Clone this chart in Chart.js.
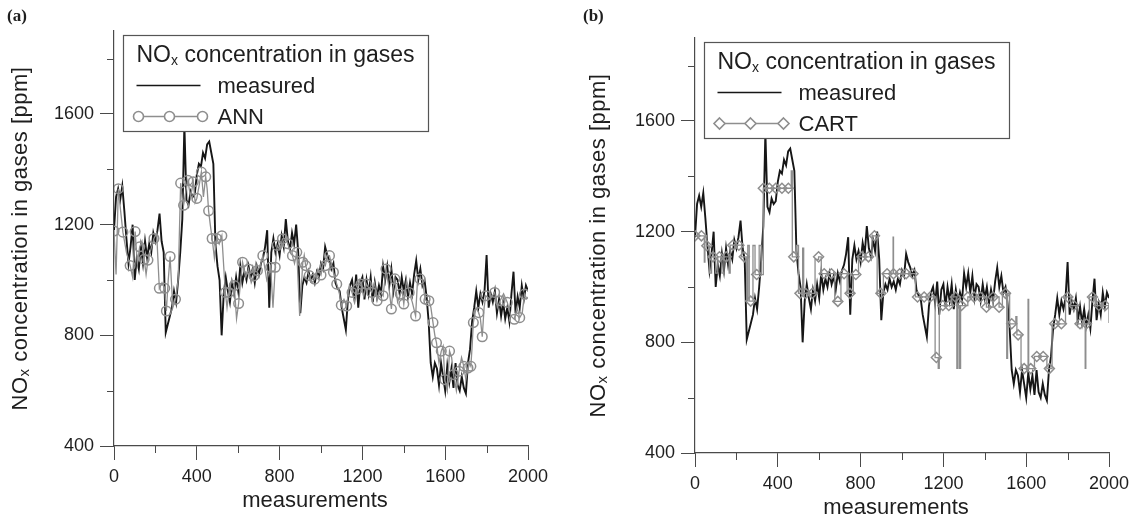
<!DOCTYPE html>
<html><head><meta charset="utf-8">
<script src="https://cdn.jsdelivr.net/npm/chart.js@4.4.1/dist/chart.umd.min.js"></script>
<style>
html,body{margin:0;padding:0;background:#fff;width:1133px;height:523px;overflow:hidden}
.p{position:absolute;top:0;height:523px}
#pa{left:0;width:566px}
#pb{left:566px;width:567px}
</style></head><body>
<div class="p" id="pa"><canvas id="ca"></canvas></div>
<div class="p" id="pb"><canvas id="cb"></canvas></div>
<script>
// ---------- data ----------
const xTicks = [0, 400, 800, 1200, 1600, 2000];
const xMinorTicks = [200, 600, 1000, 1400, 1800];
const yTicks = [400, 800, 1200, 1600];
const yMinorTicks = [600, 1000, 1400, 1800];

const measX = [0,10,20,30,40,50,60,70,80,90,100,110,120,130,140,150,160,170,180,190,
200,210,220,230,240,250,260,270,280,290,300,310,320,330,340,350,360,370,380,390,
400,410,420,430,440,450,460,470,480,490,500,510,520,530,540,550,560,570,580,590,
600,610,620,630,640,650,660,670,680,690,700,710,720,730,740,750,760,770,780,790,
800,810,820,830,840,850,860,870,880,890,900,910,920,930,940,950,960,970,980,990,
1000,1010,1020,1030,1040,1050,1060,1070,1080,1090,1100,1110,1120,1130,1140,1150,1160,1170,1180,1190,
1200,1210,1220,1230,1240,1250,1260,1270,1280,1290,1300,1310,1320,1330,1340,1350,1360,1370,1380,1390,
1400,1410,1420,1430,1440,1450,1460,1470,1480,1490,1500,1510,1520,1530,1540,1550,1560,1570,1580,1590,
1600,1610,1620,1630,1640,1650,1660,1670,1680,1690,1700,1710,1720,1730,1740,1750,1760,1770,1780,1790,
1800,1810,1820,1830,1840,1850,1860,1870,1880,1890,1900,1910,1920,1930,1940,1950,1960,1970,1980,1990,2000];
const measY = [1180,1300,1330,1290,1340,1250,1150,1060,1120,1200,
1000,1080,1040,1120,1060,1140,1080,1130,1100,1170,
1140,1180,1240,1140,1100,810,840,870,900,960,
920,1000,1100,1220,1560,1290,1270,1320,1300,1310,
1380,1420,1410,1460,1440,1490,1500,1460,1420,1130,
1050,1000,800,950,1010,960,920,990,950,1010,
960,1050,990,1030,1000,1050,1010,1040,990,1050,
1020,1060,1080,1120,1180,900,1100,1150,1100,1130,
1090,1160,1120,1220,1140,1110,1170,1130,1200,1100,
880,980,1010,990,1030,1000,1020,990,1030,1010,
1060,1040,1120,1090,1070,1040,1060,990,970,960,
900,860,820,930,980,1000,940,1020,900,990,
1010,930,1000,950,1010,920,990,940,980,950,
1050,1000,1050,980,1040,960,1010,1000,950,1010,
960,1000,940,990,950,1020,1070,1000,1040,980,
1000,940,850,700,650,700,680,620,700,650,
600,690,630,680,610,700,620,600,650,610,
590,700,750,850,900,960,900,950,920,960,
1090,900,950,920,960,880,930,870,920,860,
900,850,950,1030,880,940,900,980,930,980,960];

// ANN markers (circles) and the in-between points of the ANN line
const annX = [0,21,43,78,102,124,146,164,193,219,245,253,271,297,322,336,357,383,400,422,443,457,474,495,521,538,555,581,602,621,650,676,693,719,757,779,788,814,840,862,883,912,926,943,969,1000,1021,1041,1060,1076,1098,1124,1150,1176,1193,1219,1245,1271,1300,1314,1340,1357,1383,1400,1426,1457,1478,1503,1521,1541,1558,1581,1598,1621,1641,1667,1690,1710,1724,1736,1762,1779,1796,1839,1865,1900,1934,1960,1983];
const annY = [1177,1330,1173,1052,1175,1120,1075,1072,1150,970,970,888,1085,930,1350,1270,1360,1355,1295,1390,1373,1250,1150,1150,1160,955,955,980,915,1064,1040,1015,1034,1088,1046,1046,1125,1149,1131,1088,1100,1064,1052,1016,1003,1018,1052,1088,1028,985,909,906,955,967,985,985,955,925,943,1040,895,1004,949,913,955,870,1004,931,925,846,773,743,640,743,658,670,688,682,688,846,882,795,943,955,925,919,858,864,949];
const annMidX = [10,32,60,90,113,135,155,178,206,232,249,262,284,310,329,347,370,392,411,432,450,465,485,508,530,546,568,592,612,636,663,685,706,738,768,783,801,827,851,872,897,919,935,956,985,1010,1031,1050,1068,1087,1111,1137,1163,1185,1206,1232,1258,1285,1307,1327,1348,1370,1392,1413,1441,1467,1490,1512,1531,1550,1570,1590,1610,1631,1654,1679,1700,1717,1730,1749,1770,1788,1817,1852,1882,1917,1947,1972,1995];
const annMidY = [1020,1250,1100,1010,1060,1140,1020,1110,1170,990,920,1000,900,1000,1300,1320,1300,1280,1340,1300,1330,1200,1080,1130,1050,900,1000,860,1000,1010,990,1060,1050,1000,900,1080,1110,1150,1100,1060,870,1090,1030,990,1040,1060,1090,1060,1010,960,930,980,920,1000,940,970,990,960,990,980,970,920,960,1000,920,1010,1000,920,900,800,700,760,600,720,600,720,640,700,760,900,860,900,930,900,950,870,900,880,930];

// CART markers (diamonds) and the extra step points of the CART line
const cartX = [0,31,57,87,118,151,182,212,238,269,298,330,359,390,420,451,477,507,534,567,597,624,659,690,720,749,777,807,838,867,898,928,959,989,1020,1053,1075,1107,1136,1166,1197,1226,1258,1287,1318,1348,1379,1408,1440,1469,1500,1530,1561,1590,1622,1651,1682,1712,1738,1770,1801,1830,1860,1891,1920,1951,1982];
const cartY = [1185,1185,1149,1109,1109,1109,1151,1151,1109,949,1045,1357,1357,1357,1357,1357,1109,977,977,977,1109,1048,1048,948,1048,977,1045,1109,1109,1185,977,1048,1048,1048,1048,1048,964,964,964,745,933,933,964,933,964,964,964,927,964,927,977,867,827,705,705,749,749,705,867,867,964,933,867,867,964,933,933];
const cartStepX = [45,48,70,80,100,110,130,140,165,170,225,250,255,262,280,290,310,320,465,470,490,500,520,525,580,610,675,705,735,765,790,855,880,910,945,957,960,1065,1150,1160,1175,1180,1240,1265,1270,1278,1283,1485,1506,1510,1520,1550,1555,1575,1609,1612,1640,1700,1725,1790,1815,1845,1885,1888,1905,1935,2000];
const cartStepY = [1090,1185,1050,1109,1050,1109,1050,1109,1050,1151,1109,950,1150,949,1150,1045,1150,1045,1420,1109,1150,977,1140,977,1100,1048,948,1048,977,1045,1109,1185,977,1048,1048,1180,1048,964,964,745,706,933,964,706,933,706,933,977,742,977,867,893,827,705,955,705,749,705,867,964,933,867,706,867,964,933,870];

// ---------- styling ----------
const AXIS = '#4a4a4a', TXT = '#1e1e1e', BLACK = '#161616', GRAY = '#8e8e8e';
const FONT = '"Liberation Sans", Arial, Helvetica, sans-serif';

function pairs(xs, ys) { return xs.map((x, i) => ({x: x, y: ys[i]})); }
function merged(ax, ay, bx, by) {
  return pairs(ax, ay).concat(pairs(bx, by)).sort((a, b) => a.x - b.x);
}

function drawNOx(ctx, x, y, big, small, sub, rest) {
  ctx.font = big + 'px ' + FONT;
  ctx.fillText('NO', x, y);
  let w = ctx.measureText('NO').width;
  ctx.font = small + 'px ' + FONT;
  ctx.fillText('x', x + w, y + sub);
  w += ctx.measureText('x').width;
  ctx.font = big + 'px ' + FONT;
  ctx.fillText(rest, x + w, y);
}
function widthNOx(ctx, big, small, rest) {
  ctx.font = big + 'px ' + FONT;
  let w = ctx.measureText('NO').width + ctx.measureText(rest).width;
  ctx.font = small + 'px ' + FONT;
  return w + ctx.measureText('x').width;
}

function deco(m) {
  return {
    id: 'deco',
    afterDraw(chart) {
      const ctx = chart.ctx, xs = chart.scales.x, ys = chart.scales.y;
      const L = chart.chartArea.left, T = chart.chartArea.top, B = chart.chartArea.bottom, R = chart.chartArea.right;
      ctx.save();
      // minor ticks
      ctx.strokeStyle = AXIS; ctx.lineWidth = 1;
      xMinorTicks.forEach(v => {
        const px = Math.round(xs.getPixelForValue(v)) + 0.5;
        ctx.beginPath(); ctx.moveTo(px, B); ctx.lineTo(px, B + 7); ctx.stroke();
      });
      yMinorTicks.forEach(v => {
        const py = Math.round(ys.getPixelForValue(v)) + 0.5;
        ctx.beginPath(); ctx.moveTo(L, py); ctx.lineTo(L - 7, py); ctx.stroke();
      });
      // legend box
      const bx = L + 9.5, by = T + 4.5, bw = 305, bh = 96;
      ctx.fillStyle = '#fff'; ctx.fillRect(bx, by, bw, bh);
      ctx.strokeStyle = '#555'; ctx.lineWidth = 1.2; ctx.strokeRect(bx, by, bw, bh);
      ctx.fillStyle = TXT; ctx.textBaseline = 'middle'; ctx.textAlign = 'left';
      drawNOx(ctx, bx + 13, by + 20, 23, 14, 6, ' concentration in gases');
      ctx.strokeStyle = BLACK; ctx.lineWidth = 1.5;
      ctx.beginPath(); ctx.moveTo(bx + 13, by + 50); ctx.lineTo(bx + 77, by + 50); ctx.stroke();
      ctx.font = '22px ' + FONT; ctx.fillStyle = TXT;
      ctx.fillText('measured', bx + 94, by + 51);
      ctx.strokeStyle = GRAY; ctx.lineWidth = 1.4;
      ctx.beginPath(); ctx.moveTo(bx + 15, by + 81); ctx.lineTo(bx + 79, by + 81); ctx.stroke();
      ctx.lineWidth = 1.6;
      [15, 46, 79].forEach(dx => {
        ctx.fillStyle = '#fff';
        ctx.beginPath();
        if (m.style === 'circle') ctx.arc(bx + dx, by + 81, 5, 0, Math.PI * 2);
        else { ctx.moveTo(bx + dx, by + 75.5); ctx.lineTo(bx + dx + 5.5, by + 81); ctx.lineTo(bx + dx, by + 86.5); ctx.lineTo(bx + dx - 5.5, by + 81); ctx.closePath(); }
        ctx.fill(); ctx.stroke();
      });
      ctx.fillStyle = TXT; ctx.font = '22px ' + FONT;
      ctx.fillText(m.name, bx + 94, by + 82);
      // y axis title (rotated)
      const rest = ' concentration in gases [ppm]';
      ctx.save();
      ctx.translate(m.yTitleX, (T + B) / 2);
      ctx.rotate(-Math.PI / 2);
      ctx.letterSpacing = '0.5px';
      const tw = widthNOx(ctx, 22, 15, rest);
      ctx.textBaseline = 'middle';
      drawNOx(ctx, -tw / 2, 0, 22, 15, 4, rest);
      ctx.restore();
      // x axis title
      ctx.font = '22px ' + FONT; ctx.textAlign = 'center'; ctx.textBaseline = 'alphabetic';
      ctx.fillText('measurements', (L + R) / 2 - 6, m.xTitleY);
      // panel label
      ctx.font = 'bold 17px "Liberation Serif", "Times New Roman", serif';
      ctx.textAlign = 'left';
      ctx.fillText(m.tag, m.tagX, m.tagY);
      ctx.restore();
    }
  };
}

function axis(min, max, ticks, fit) {
  return {
    type: 'linear', min: min, max: max,
    afterBuildTicks(s) { s.ticks = ticks.map(v => ({value: v})); },
    afterFit(s) { fit(s); s.paddingLeft = 0; s.paddingRight = 0; s.paddingTop = 0; s.paddingBottom = 0; },
    ticks: {autoSkip: false, maxRotation: 0, includeBounds: false, color: TXT, padding: 6,
            font: {size: 18, family: FONT}, callback: v => String(v)},
    grid: {display: true, drawOnChartArea: false, drawTicks: true, tickLength: 14, color: AXIS, lineWidth: 1},
    border: {display: true, color: AXIS, width: 1.2},
    title: {display: false}
  };
}

function build(id, m) {
  const datasets = [
    {label: m.name + ' markers', data: m.pts, showLine: false, pointStyle: m.style, pointRadius: m.r,
     pointBorderColor: GRAY, pointBorderWidth: 1.5, pointBackgroundColor: 'rgba(255,255,255,0)', order: 1},
    {label: m.name, data: m.line, borderColor: GRAY, borderWidth: 1.3, pointRadius: 0, stepped: m.stepped, fill: false, order: 2},
    {label: 'measured', data: pairs(measX, measY), borderColor: BLACK, borderWidth: 1.9, pointRadius: 0, fill: false, order: 3}
  ];
  new Chart(document.getElementById(id), {
    type: 'line',
    data: {datasets: datasets},
    options: {
      responsive: true, maintainAspectRatio: false, animation: false, devicePixelRatio: 1,
      layout: {padding: {left: 0, top: m.top, right: m.w - m.right, bottom: 0}},
      plugins: {legend: {display: false}, tooltip: {enabled: false}},
      elements: {line: {tension: 0}},
      scales: {
        x: axis(0, 2000, xTicks, s => { s.height = 523 - m.bottom; }),
        y: axis(400, 1900, yTicks, s => { s.width = m.left; })
      }
    },
    plugins: [deco(m)]
  });
}

build('ca', {name: 'ANN', style: 'circle', r: 4.8, stepped: false,
  pts: pairs(annX, annY), line: merged(annX, annY, annMidX, annMidY),
  left: 114, right: 528, top: 31, bottom: 446, w: 566,
  yTitleX: 21, xTitleY: 507, tag: '(a)', tagX: 7, tagY: 21});
build('cb', {name: 'CART', style: 'rectRot', r: 5, stepped: true,
  pts: pairs(cartX, cartY), line: merged(cartX, cartY, cartStepX, cartStepY),
  left: 129, right: 543, top: 38, bottom: 453, w: 567,
  yTitleX: 33, xTitleY: 514, tag: '(b)', tagX: 17, tagY: 21});
</script>
</body></html>
